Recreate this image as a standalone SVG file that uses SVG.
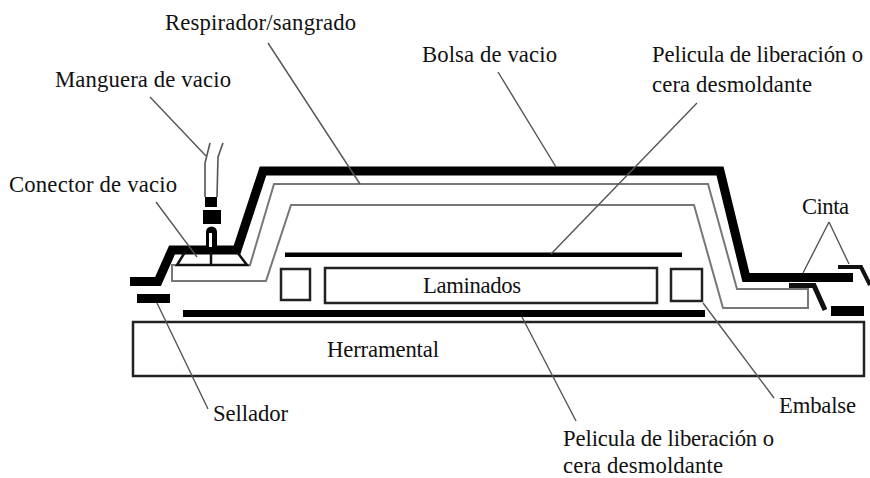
<svg xmlns="http://www.w3.org/2000/svg" width="870" height="478" viewBox="0 0 870 478">
<style>
text{font-family:"Liberation Serif","Times New Roman",serif;font-size:22.7px;fill:#111}
.lead{fill:none;stroke:#555;stroke-width:1.4}
.thick{fill:none;stroke:#000;stroke-width:9}
.gray{fill:none;stroke:#777;stroke-width:2}
.box{fill:#fff;stroke:#222;stroke-width:2.5}
.bar{fill:#000}
.tube{fill:none;stroke:#555;stroke-width:1.6}
</style>
<rect width="870" height="478" fill="#fff"/>
<g id="herramental"><rect class="box" x="133" y="322" width="731" height="54"/><text x="327" y="357" textLength="112">Herramental</text></g>
<g id="laminados"><rect class="box" x="325" y="268" width="332" height="35"/><text x="423" y="293" textLength="98">Laminados</text></g>
<g id="embalse-izq"><rect class="box" x="281" y="269" width="29" height="31"/></g>
<g id="embalse-der"><rect class="box" x="671" y="269" width="31" height="32"/></g>
<g id="pelicula-sup"><rect class="bar" x="285" y="252.500" width="397" height="4.500"/></g>
<g id="pelicula-inf"><rect class="bar" x="183" y="310" width="522" height="7"/></g>
<g id="respirador"><path class="gray" d="M172 265V281H266L291 205H694L723 308H808V289H737L708 184H274L250 265Z"/></g>
<g id="bolsa"><path class="thick" d="M130 281.500H158L172 250H237L263 171H720L746 277.500H853"/></g>
<g id="sellador-izq"><rect class="bar" x="137" y="294" width="33" height="9"/></g>
<g id="sellador-der"><rect class="bar" x="831" y="306" width="33" height="10"/></g>
<g id="cinta">
<path fill="none" stroke="#111" stroke-width="5" d="M789 285.500H814L825 310"/>
<path fill="none" stroke="#111" stroke-width="4" d="M838 267H861L870 285"/>
</g>
<g id="conector">
<path fill="none" stroke="#111" stroke-width="2.5" d="M185 252L177 265H247L237 252M211 252V265"/>
<rect class="bar" x="205" y="197" width="12" height="10"/>
<rect class="bar" x="203" y="210" width="18" height="14"/>
<path class="bar" d="M206 248V232A5.500 5.500 0 0 1 217 232V248Z"/>
<rect x="209" y="233" width="3" height="14" fill="#fff"/>
<path class="tube" d="M205 197V163L210 143M217 197L218 157L223 143"/>
</g>
<g id="connectors">
<path class="lead" d="M150 97L206 156"/>
<path class="lead" d="M156 202L197 257"/>
<path class="lead" d="M268 43L360 184"/>
<path class="lead" d="M498 72L556 167"/>
<path class="lead" d="M697 103L551 254"/>
<path class="lead" d="M829 222L803 273M829 222L849 264"/>
<path class="lead" d="M703 303L774 398"/>
<path class="lead" d="M522 317L576 421"/>
<path class="lead" d="M157 303L208 409"/>
</g>
<g id="labels">
<text x="165" y="30" textLength="191">Respirador/sangrado</text>
<text x="422" y="62" textLength="135">Bolsa de vacio</text>
<text x="652" y="62" textLength="211">Pelicula de liberación o</text>
<text x="652" y="92" textLength="160">cera desmoldante</text>
<text x="55" y="87" textLength="176">Manguera de vacio</text>
<text x="9" y="192" textLength="168">Conector de vacio</text>
<text x="802" y="214" textLength="47">Cinta</text>
<text x="213" y="421" textLength="75">Sellador</text>
<text x="779" y="413" textLength="77">Embalse</text>
<text x="563" y="446" textLength="211">Pelicula de liberación o</text>
<text x="563" y="473" textLength="160">cera desmoldante</text>
</g>
</svg>
